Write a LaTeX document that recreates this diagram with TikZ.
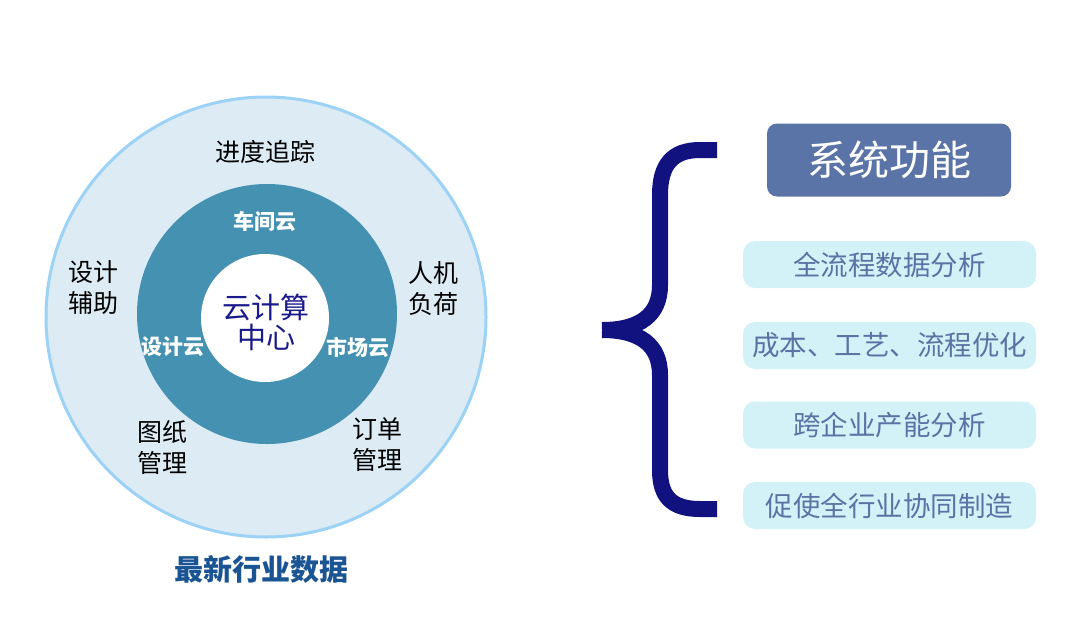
\documentclass[tikz,border=0pt]{standalone}
\usepackage{fontspec}
\setmainfont{Noto Sans CJK SC}
\usetikzlibrary{positioning}
\definecolor{ringout}{HTML}{DDEBF4}
\definecolor{ringedge}{HTML}{9CD2F6}
\definecolor{ringmid}{HTML}{4591B1}
\definecolor{corenavy}{HTML}{1A1A8C}
\definecolor{bracenavy}{HTML}{11117F}
\definecolor{datablue}{HTML}{1B5493}
\definecolor{titlebox}{HTML}{5A74A7}
\definecolor{featbox}{HTML}{D3F2F8}
\definecolor{feattext}{HTML}{5B72A5}
\tikzset{
  lbl/.style={align=center,text=black,font=\fontsize{25pt}{31pt}\selectfont},
  cloudlbl/.style={text=white,font=\bfseries\fontsize{21pt}{24pt}\selectfont},
  feat/.style={fill=featbox,rounded corners=12pt,minimum width=293pt,minimum height=47pt,
    text=feattext,font=\fontsize{27.5pt}{30pt}\selectfont},
}
\begin{document}
\begin{tikzpicture}[x=1pt,y=-1pt]
\useasboundingbox (0,0) rectangle (1081,638);

% rings
\fill[ringout] (266,317) circle (220);
\draw[ringedge,line width=3pt] (266,317) circle (220);
\fill[ringmid] (267,314) circle (130);
\fill[white] (265,318) circle (64);

\node[align=center,text=corenavy,font=\fontsize{29pt}{30pt}\selectfont] (core) at (266,322) {云计算\\中心};

\node[cloudlbl] (shop) at (265,221) {车间云};
\node[cloudlbl] (design) at (173,347) {设计云};
\node[cloudlbl] (market) at (358,347) {市场云};

\node[lbl] (track) at (265,152) {进度追踪};
\node[lbl] (aid) at (93,288) {设计\\辅助};
\node[lbl] (load) at (433,288) {人机\\负荷};
\node[lbl] (draw) at (162,447) {图纸\\管理};
\node[lbl] (order) at (377,445) {订单\\管理};

\node[text=datablue,font=\bfseries\fontsize{29pt}{31pt}\selectfont] (data) at (261,569) {最新行业数据};

% brace
\draw[bracenavy,line width=16pt] (717,150) -- (700,150) .. controls (672,150) and (660,165) .. (660,195)
  -- (660,285) .. controls (660,315) and (640,330) .. (602,330);
\draw[bracenavy,line width=16pt] (602,330) .. controls (640,330) and (660,345) .. (660,375)
  -- (660,470) .. controls (660,497) and (672,509) .. (700,509) -- (717,509);

% functions
\node[fill=titlebox,rounded corners=10pt,minimum width=244pt,minimum height=73pt,text=white,
  font=\fontsize{41pt}{44pt}\selectfont] (sys) at (889,160) {系统功能};

\node[feat] (f1) at (889.5,264.5) {全流程数据分析};
\node[feat] (f2) at (889.5,345.5) {成本、工艺、流程优化};
\node[feat] (f3) at (889.5,425) {跨企业产能分析};
\node[feat] (f4) at (889.5,505.5) {促使全行业协同制造};
\end{tikzpicture}
\end{document}
